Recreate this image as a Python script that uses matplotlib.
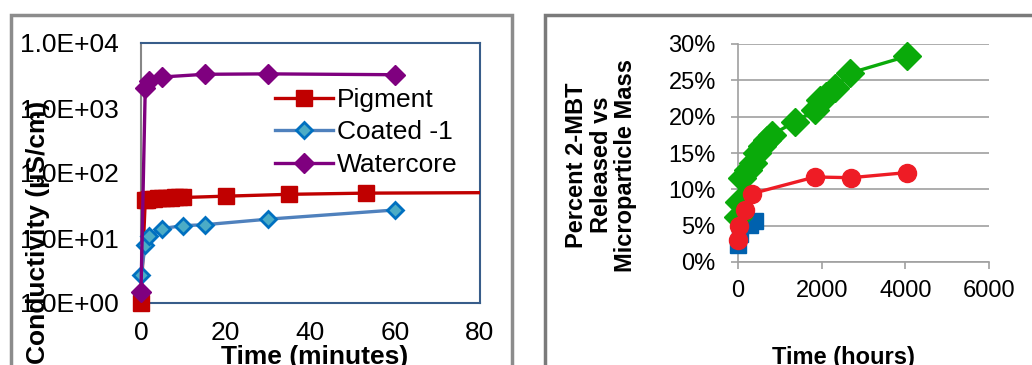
import matplotlib
matplotlib.use("Agg")
import matplotlib.pyplot as plt
import numpy as np
from matplotlib.patches import Rectangle
from matplotlib.lines import Line2D
from matplotlib.ticker import FixedLocator, FuncFormatter, PercentFormatter

plt.rcParams['font.family'] = ['Liberation Sans', 'DejaVu Sans']

# ---------------- Left chart data (minutes, uS/cm) ----------------
pig_t = [0, 1, 1.5, 2, 3, 4, 5, 6, 7, 8, 9, 10, 20, 35, 53, 120]
pig_v = [1.0, 38, 39, 40, 40, 41, 41, 41, 41, 42, 42, 42, 44, 47, 49, 51]
coat_t = [0, 1, 2, 5, 10, 15, 30, 60]
coat_v = [2.7, 7.8, 10.7, 14, 15.5, 16, 19.5, 27]
water_t = [0, 1, 2, 5, 15, 30, 60]
water_v = [1.5, 2000, 2600, 3000, 3300, 3350, 3250]
left_xticks = [0, 20, 40, 60, 80]
left_yticks = [1, 10, 100, 1000, 10000]

# ---------------- Right chart data (hours, fraction) ----------------
green_t = [0, 24, 96, 240, 360, 446, 566, 685, 805, 1362, 1840, 1960, 2100, 2318, 2677, 4032]
green_v = [0.062, 0.083, 0.115, 0.127, 0.136, 0.150, 0.159, 0.168, 0.175, 0.193, 0.209, 0.223, 0.228, 0.239, 0.260, 0.283]
red_t = [0, 30, 168, 327, 1840, 2694, 4032]
red_v = [0.030, 0.049, 0.072, 0.094, 0.117, 0.116, 0.123]
blue_t = [0, 48, 287, 406]
blue_v = [0.023, 0.038, 0.051, 0.056]
right_xticks = [0, 2000, 4000, 6000]
right_yticks = [0, 0.05, 0.10, 0.15, 0.20, 0.25, 0.30]

W, H = 1032, 365
fig = plt.figure(figsize=(W / 100, H / 100), dpi=100)

def fx(px):
    return px / W

def fy(py):
    return 1 - py / H

# chart borders
fig.patches.append(Rectangle((fx(11), fy(400)), fx(501), (400 - 15) / H,
                             transform=fig.transFigure, fill=False,
                             edgecolor='#8c8c8c', linewidth=2.5))
fig.patches.append(Rectangle((fx(545), fy(400)), fx(600), (400 - 15) / H,
                             transform=fig.transFigure, fill=False,
                             edgecolor='#7a7a7a', linewidth=2.5))

# ---------------- Left axes ----------------
axL = fig.add_axes([fx(141), fy(303), fx(480 - 141), (303 - 43) / H])
axL.set_yscale('log')
axL.set_xlim(0, 80)
axL.set_ylim(1, 10000)

pig_c = '#C00000'
coat_line = '#4F81BD'
coat_edge = '#0070C0'
coat_face = '#4BACC6'
water_c = '#7F007F'

axL.plot(pig_t, pig_v, color=pig_c, lw=2.4, zorder=3)
pm = np.array(pig_t) <= 80
axL.plot(np.array(pig_t)[pm], np.array(pig_v)[pm], ls='none', marker='s', ms=12,
         color=pig_c, clip_on=False, zorder=4)
axL.plot(coat_t, coat_v, color=coat_line, lw=2.4, marker='D', ms=8,
         mfc=coat_face, mec=coat_edge, mew=2, clip_on=False, zorder=5)
axL.plot(water_t, water_v, color=water_c, lw=2.4, marker='D', ms=10.5,
         clip_on=False, zorder=6)

axL.yaxis.set_major_locator(FixedLocator(left_yticks))
axL.yaxis.set_minor_locator(FixedLocator([]))
axL.yaxis.set_major_formatter(FuncFormatter(lambda v, p: '%.1fE+%02d' % (1.0, int(round(np.log10(v))))))
axL.set_xticks(left_xticks)
axL.tick_params(axis='both', length=0, labelsize=19)
axL.tick_params(axis='y', pad=16)
axL.tick_params(axis='x', pad=13)
for s in ['top', 'right', 'bottom']:
    axL.spines[s].set_color('#385D8A')
    axL.spines[s].set_linewidth(1.5)
axL.spines['left'].set_color('#868686')
axL.spines['left'].set_linewidth(1.5)

handles = [Line2D([], [], color=pig_c, lw=2.4, marker='s', ms=12),
           Line2D([], [], color=coat_line, lw=2.4, marker='D', ms=8, mfc=coat_face, mec=coat_edge, mew=2),
           Line2D([], [], color=water_c, lw=2.4, marker='D', ms=10.5)]
axL.legend(handles, ['Pigment', 'Coated -1', 'Watercore'], loc='upper left',
           bbox_to_anchor=((275 - 141) / (480 - 141), (303 - 88) / 260),
           frameon=False, fontsize=19, handlelength=2.2, handletextpad=0.15,
           labelspacing=0.32, borderpad=0, borderaxespad=0)

fig.text(fx(315), fy(364), 'Time (minutes)', ha='center', va='baseline',
         fontsize=19, fontweight='bold')
fig.text(fx(38), fy(232), 'Conductivity (\u00b5S/cm)', ha='center', va='center',
         rotation=90, fontsize=19, fontweight='bold')

# ---------------- Right axes ----------------
axR = fig.add_axes([fx(738), fy(262), fx(989 - 738), (262 - 44) / H])
axR.set_xlim(0, 6000)
axR.set_ylim(0, 0.30)

green_c = '#0AAA0A'
red_c = '#EE1C25'
blue_c = '#0061AE'

axR.plot(blue_t, blue_v, color=blue_c, lw=2.4, marker='s', ms=11, clip_on=False, zorder=3)
axR.plot(green_t, green_v, color=green_c, lw=2.4, marker='D', ms=14.5, clip_on=False, zorder=4)
axR.plot(red_t, red_v, color=red_c, lw=2.4, marker='o', ms=13, clip_on=False, zorder=5)

axR.set_xticks(right_xticks)
axR.set_yticks(right_yticks)
axR.yaxis.set_major_formatter(PercentFormatter(1.0, decimals=0))
axR.grid(axis='y', color='#A0A0A0', lw=1.2)
axR.set_axisbelow(True)
axR.tick_params(axis='both', labelsize=17, color='#A0A0A0', length=5, width=1.2)
axR.tick_params(axis='y', pad=11)
axR.tick_params(axis='x', pad=8)
for s in ['top', 'right']:
    axR.spines[s].set_visible(False)
for s in ['left', 'bottom']:
    axR.spines[s].set_color('#A0A0A0')
    axR.spines[s].set_linewidth(1.2)

fig.text(fx(843), fy(364), 'Time (hours)', ha='center', va='baseline',
         fontsize=17, fontweight='bold')
fig.text(fx(601), fy(165), 'Percent 2-MBT\nReleased vs\nMicroparticle Mass',
         ha='center', va='center', rotation=90, fontsize=17, fontweight='bold',
         multialignment='center', linespacing=1.1)

fig.savefig('out.png', dpi=100)
